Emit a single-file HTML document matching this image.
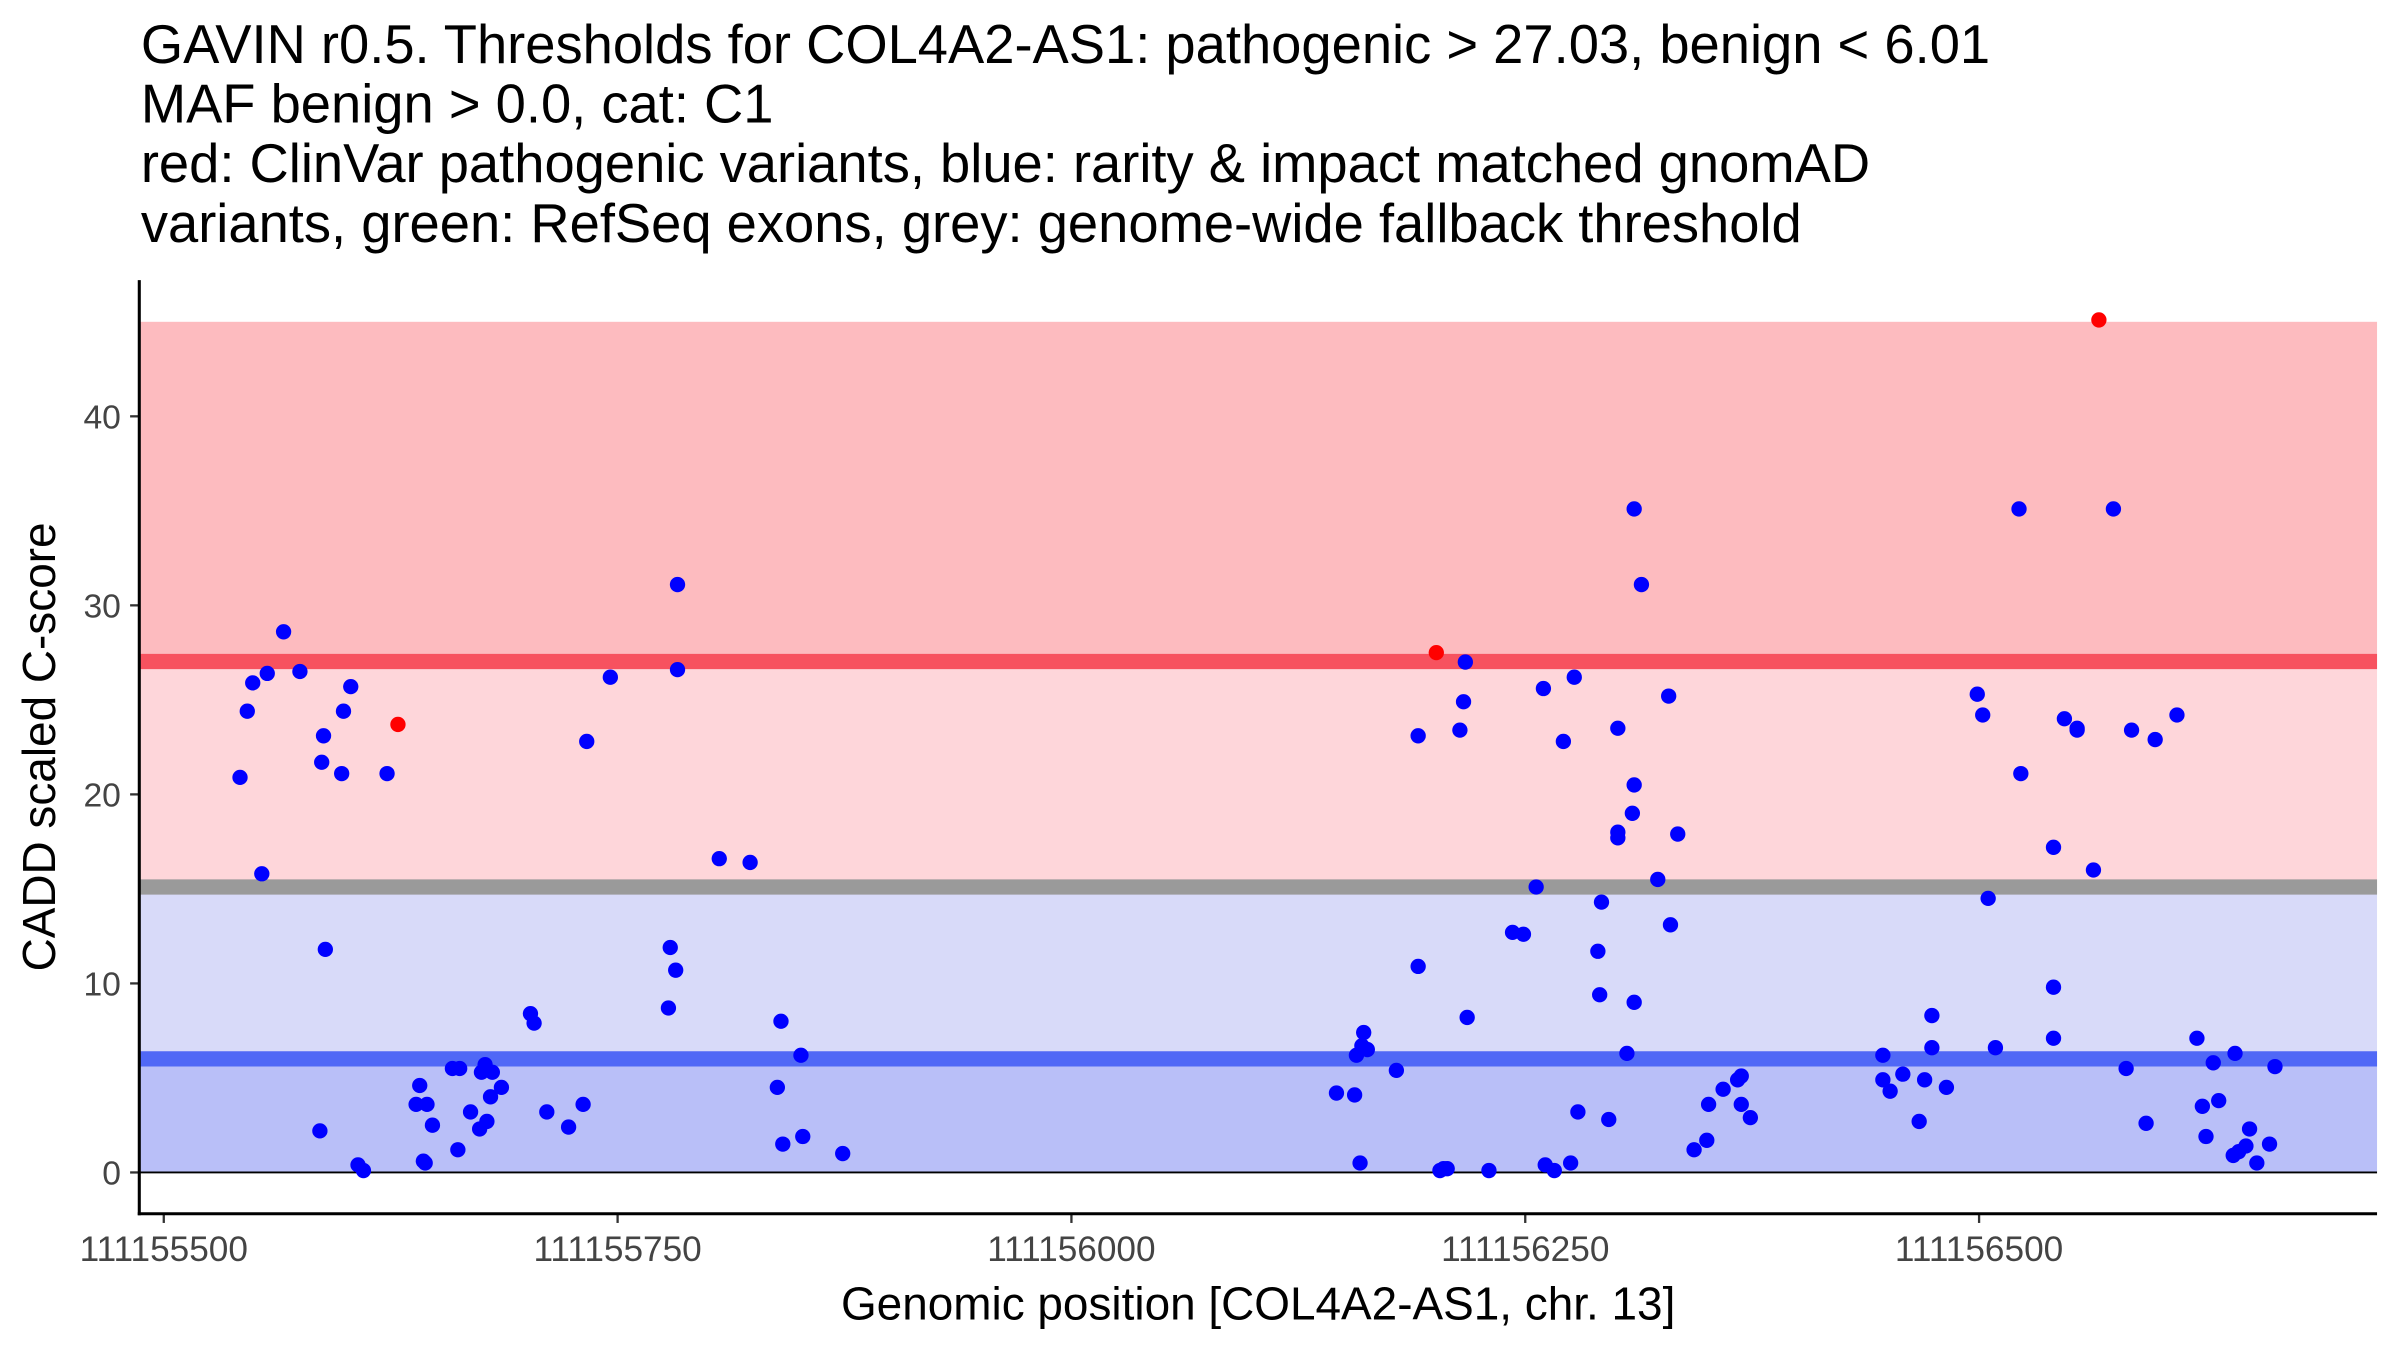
<!DOCTYPE html>
<html><head><meta charset="utf-8"><style>html,body{margin:0;padding:0;background:#fff}svg{display:block}</style></head>
<body>
<svg id="chart" width="2400" height="1350" viewBox="0 0 1568 882" preserveAspectRatio="none" xmlns="http://www.w3.org/2000/svg" font-family="Liberation Sans, Arial, sans-serif">
<rect width="1568" height="882" fill="#fff"/>
<g font-size="35.5" fill="#000">
<text x="92" y="41">GAVIN r0.5. Thresholds for COL4A2-AS1: pathogenic &gt; 27.03, benign &lt; 6.01</text>
<text x="92" y="80">MAF benign &gt; 0.0, cat: C1</text>
<text x="92" y="119">red: ClinVar pathogenic variants, blue: rarity &amp; impact matched gnomAD</text>
<text x="92" y="158">variants, green: RefSeq exons, grey: genome-wide fallback threshold</text>
</g>
<g id="bands"></g>
<g id="ticks"></g>
<g id="points"></g>
<line x1="91" y1="183" x2="91" y2="794" stroke="#000" stroke-width="2"/>
<line x1="90" y1="793" x2="1553" y2="793" stroke="#000" stroke-width="2"/>
<text x="822" y="862" font-size="30" text-anchor="middle">Genomic position [COL4A2-AS1, chr. 13]</text>
<text transform="translate(36,488) rotate(-90)" font-size="30" text-anchor="middle">CADD scaled C-score</text>
</svg>
<script>
const xTicks=[111155500,111155750,111156000,111156250,111156500];
const yTicks=[0,10,20,30,40];
const pathoThreshold=27.03, benignThreshold=6.01, fallbackThreshold=15.1, maxScore=45;
const blueOffsets=[42,46,49,54,57,66,75,86,87,88,89,98,99,103,107,110,123,141,139,145,143,144,148,159,163,162,169,174,175,177,178,180,181,186,202,204,211,223,231,233,246,278,279,282,283,283,306,323,338,340,341,351,352,374,646,656,657,660,661,659,663,679,691,691,703,705,707,714,716,717,718,730,743,749,756,760,761,766,771,775,777,779,791,792,790,796,801,801,801,806,809,810,810,810,814,823,829,830,834,843,850,851,859,867,869,869,874,947,947,951,958,967,970,974,974,982,999,1002,1005,1009,1022,1023,1041,1041,1041,1047,1054,1054,1063,1074,1081,1084,1092,1097,1109,1120,1123,1125,1129,1132,1140,1141,1143,1147,1149,1153,1160,1163];
const blueScores=[20.9,24.4,25.9,15.8,26.4,28.6,26.5,2.2,21.7,23.1,11.8,21.1,24.4,25.7,0.4,0.1,21.1,4.6,3.6,3.6,0.6,0.5,2.5,5.5,5.5,1.2,3.2,2.3,5.3,5.7,2.7,4.0,5.3,4.5,8.4,7.9,3.2,2.4,3.6,22.8,26.2,8.7,11.9,10.7,31.1,26.6,16.6,16.4,4.5,8.0,1.5,6.2,1.9,1.0,4.2,4.1,6.2,6.7,7.4,0.5,6.5,5.4,10.9,23.1,0.1,0.2,0.2,23.4,24.9,27.0,8.2,0.1,12.7,12.6,15.1,25.6,0.4,0.1,22.8,0.5,26.2,3.2,9.4,14.3,11.7,2.8,23.5,18.0,17.7,6.3,19.0,20.5,9.0,35.1,31.1,15.5,25.2,13.1,17.9,1.2,1.7,3.6,4.4,4.9,5.1,3.6,2.9,6.2,4.9,4.3,5.2,2.7,4.9,6.6,8.3,4.5,25.3,24.2,14.5,6.6,35.1,21.1,17.2,9.8,7.1,24.0,23.5,23.4,16.0,35.1,5.5,23.4,2.6,22.9,24.2,7.1,3.5,1.9,5.8,3.8,0.9,6.3,1.1,1.4,2.3,0.5,1.5,5.6];
const redOffsets=[129,701,1066];
const redScores=[23.7,27.5,45.1];

const NS='http://www.w3.org/2000/svg';
const X=v=>107+(v-111155500)*296.5/250;
const Y=v=>766-v*12.35;
const L=91,R=1553;
function mk(tag,attrs,parent){const e=document.createElementNS(NS,tag);for(const k in attrs)e.setAttribute(k,attrs[k]);parent.appendChild(e);return e;}
const bands=document.getElementById('bands');
let b;
b=mk('rect',{x:L,y:Y(maxScore),width:R-L,height:Y(pathoThreshold)-Y(maxScore),fill:'#fdbbbf'},bands);


b=mk('rect',{x:L,y:Y(pathoThreshold),width:R-L,height:Y(fallbackThreshold)-Y(pathoThreshold),fill:'#fed6da'},bands);


b=mk('rect',{x:L,y:Y(fallbackThreshold),width:R-L,height:Y(benignThreshold)-Y(fallbackThreshold),fill:'#d8daf9'},bands);


b=mk('rect',{x:L,y:Y(benignThreshold),width:R-L,height:Y(0)-Y(benignThreshold),fill:'#b9bff8'},bands);


b=mk('line',{x1:L,x2:R,y1:Y(pathoThreshold),y2:Y(pathoThreshold),stroke:'#f7525f','stroke-width':10},bands);


b=mk('line',{x1:L,x2:R,y1:Y(fallbackThreshold),y2:Y(fallbackThreshold),stroke:'#9a9a9a','stroke-width':10},bands);


b=mk('line',{x1:L,x2:R,y1:Y(benignThreshold),y2:Y(benignThreshold),stroke:'#5068f6','stroke-width':10},bands);


b=mk('line',{x1:L,x2:R,y1:Y(0),y2:Y(0),stroke:'#000','stroke-width':1.2},bands);



const ticks=document.getElementById('ticks');
xTicks.forEach(t=>{
 let l=mk('line',{x1:X(t),x2:X(t),y1:793,y2:799,stroke:'#333','stroke-width':1.5},ticks);
 
 
 let tx=mk('text',{x:X(t),y:824,'font-size':23,'text-anchor':'middle',fill:'#444'},ticks);
 tx.textContent=t;
 
 
});
yTicks.forEach(t=>{
 let l=mk('line',{x1:85,x2:91,y1:Y(t),y2:Y(t),stroke:'#333','stroke-width':1.5},ticks);
 
 
 let tx=mk('text',{x:79,y:Y(t)+8,'font-size':22,'text-anchor':'end',fill:'#444'},ticks);
 tx.textContent=t;
 
 
});
const pts=document.getElementById('points');
blueOffsets.forEach((o,i)=>{
 let c=mk('circle',{cx:X(111155500+o),cy:Y(blueScores[i]),r:5,fill:'#0000ff'},pts);
 
 
});
redOffsets.forEach((o,i)=>{
 let c=mk('circle',{cx:X(111155500+o),cy:Y(redScores[i]),r:5,fill:'#ff0000'},pts);
 
 
});
</script>
</body></html>
